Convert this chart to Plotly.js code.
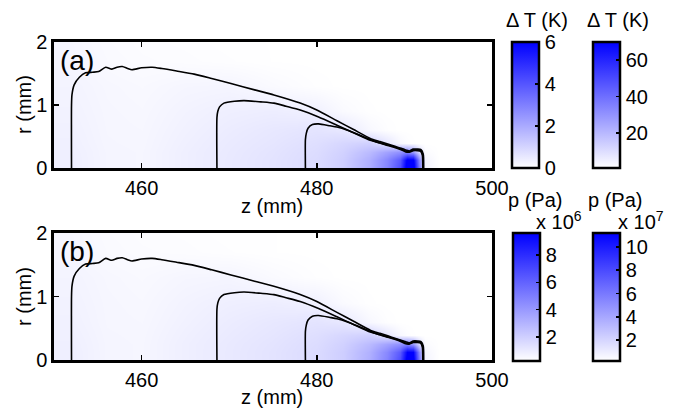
<!DOCTYPE html>
<html>
<head>
<meta charset="utf-8">
<script src="https://cdn.plot.ly/plotly-3.0.1.min.js"></script>
<style>html,body{margin:0;padding:0;background:#fff;}#chart{width:678px;height:409px;}</style>
</head>
<body>
<div id="chart"></div>
<script>
// ---- data ----
const zGrid = [450, 452, 456, 460, 465, 470, 475, 480, 483, 486, 488, 489.5, 490.3, 491, 491.7, 492.3, 494, 500];
const rGrid = [0, 0.12, 0.25, 0.4, 0.6, 0.9, 1.3, 1.7, 2.0];

// Delta T (K), rows follow rGrid, columns follow zGrid
const dTField = [
  [0.38,0.38,0.24,0.22,0.38,0.52,0.66,0.85,1.15,1.90,2.90,4.20,6.60,6.60,3.20,0.30,0,0],
  [0.38,0.38,0.24,0.22,0.38,0.52,0.66,0.85,1.15,1.85,2.80,3.90,6.20,6.20,2.80,0.25,0,0],
  [0.37,0.37,0.24,0.22,0.38,0.51,0.64,0.82,1.08,1.60,2.20,2.60,2.90,2.40,0.95,0.10,0,0],
  [0.35,0.35,0.23,0.21,0.36,0.49,0.60,0.76,0.95,1.10,0.60,0.18,0.06,0.02,0,0,0,0],
  [0.33,0.33,0.22,0.20,0.33,0.45,0.55,0.64,0.55,0.18,0.04,0,0,0,0,0,0,0],
  [0.30,0.30,0.21,0.18,0.29,0.38,0.42,0.34,0.12,0.02,0,0,0,0,0,0,0,0],
  [0.27,0.27,0.19,0.15,0.22,0.24,0.12,0.03,0,0,0,0,0,0,0,0,0,0],
  [0.24,0.22,0.13,0.09,0.07,0.04,0.01,0,0,0,0,0,0,0,0,0,0,0],
  [0.22,0.20,0.11,0.07,0.05,0.02,0.01,0,0,0,0,0,0,0,0,0,0,0]
];

// p (x 10^6 Pa), rows follow rGrid, columns follow zGrid
const pField = [
  [0.85,0.85,0.62,0.59,0.84,1.06,1.28,1.58,2.05,3.20,4.80,6.80,10.2,10.2,5.20,0.70,0.25,0.25],
  [0.85,0.85,0.62,0.59,0.84,1.06,1.28,1.58,2.05,3.10,4.60,6.30,9.60,9.60,4.60,0.60,0.25,0.25],
  [0.83,0.83,0.62,0.59,0.84,1.05,1.25,1.53,1.94,2.75,3.65,4.30,4.80,4.00,1.75,0.40,0.25,0.25],
  [0.80,0.80,0.61,0.58,0.81,1.01,1.19,1.44,1.73,1.97,1.18,0.53,0.34,0.28,0.25,0.25,0.25,0.25],
  [0.76,0.76,0.59,0.56,0.76,0.95,1.11,1.25,1.11,0.53,0.31,0.25,0.25,0.25,0.25,0.25,0.25,0.25],
  [0.72,0.72,0.58,0.53,0.70,0.84,0.90,0.78,0.44,0.28,0.25,0.25,0.25,0.25,0.25,0.25,0.25,0.25],
  [0.67,0.67,0.55,0.48,0.59,0.62,0.44,0.30,0.25,0.25,0.25,0.25,0.25,0.25,0.25,0.25,0.25,0.25],
  [0.62,0.59,0.45,0.39,0.36,0.31,0.27,0.25,0.25,0.25,0.25,0.25,0.25,0.25,0.25,0.25,0.25,0.25],
  [0.59,0.56,0.42,0.36,0.33,0.28,0.27,0.25,0.25,0.25,0.25,0.25,0.25,0.25,0.25,0.25,0.25,0.25]
];

// contour lines (z in mm, r in mm)
const outerZ = [452.0,452.0,452.05,452.3,452.9,453.6,454.4,455.1,455.9,456.6,457.2,457.8,458.4,458.9,460.0,461.2,462.3,464.0,466.0,468.0,470.2,472.9,475.1,478.1,480.0,482.3,484.2,486.1,487.2,488.1,489.0,489.9,490.3,490.6,491.0,491.5,491.9,492.15,492.2];
const outerR = [0,1.0,1.16,1.32,1.44,1.51,1.52,1.53,1.60,1.57,1.60,1.61,1.58,1.56,1.59,1.60,1.58,1.54,1.49,1.42,1.34,1.24,1.16,1.03,0.92,0.75,0.61,0.47,0.42,0.38,0.34,0.30,0.28,0.27,0.30,0.30,0.29,0.22,0];
const midZ = [468.6,468.6,468.7,468.9,469.4,470.6,471.7,473.6,475.1,476.5,478.1,480.2,482.3,484.2,486.1,487.2,488.1,489.0,489.8,490.2,490.6,491.0,491.5,491.9,492.1,492.15];
const midR = [0,0.8,0.9,0.97,1.03,1.06,1.07,1.05,1.03,0.98,0.92,0.81,0.68,0.56,0.44,0.40,0.365,0.33,0.29,0.265,0.26,0.285,0.285,0.275,0.21,0];
const innerZ = [478.7,478.7,478.8,479.0,479.5,480.2,481.5,482.3,483.5,484.6,485.8,486.9,487.8,488.8,489.7,490.15,490.55,491.0,491.5,491.85,492.05,492.1];
const innerR = [0,0.45,0.55,0.63,0.69,0.70,0.67,0.65,0.60,0.54,0.47,0.41,0.37,0.33,0.285,0.255,0.25,0.275,0.275,0.265,0.2,0];

// colour-bar ranges and ticks
const dT1Range = [0, 6],    dT1Ticks = [0, 2, 4, 6];
const dT2Range = [0.8, 70], dT2Ticks = [20, 40, 60];
const p1Range = [0.25, 9.6], p1Ticks = [2, 4, 6, 8];
const p2Range = [0.2, 11.2], p2Ticks = [2, 4, 6, 8, 10];
const zTicks = [460, 480, 500];
const rTicks = [0, 1, 2];

// ---- layout helpers ----
const W = 678, H = 409;
const px = v => v / W, py = v => 1 - v / H;
const FONT = 'Liberation Sans, Arial, sans-serif';
const scale = [[0, '#ffffff'], [1, '#0000ff']];

function cbar(left, top, height, ticks) {
  return {
    x: px(left), xanchor: 'left', xref: 'paper',
    y: py(top), yanchor: 'top', yref: 'paper',
    len: height / H, lenmode: 'fraction',
    thickness: 27, thicknessmode: 'pixels',
    xpad: 0, ypad: 0, borderwidth: 0,
    outlinewidth: 2.5, outlinecolor: '#000',
    ticks: 'inside', ticklen: 5, tickwidth: 1.5, tickcolor: '#000',
    tickvals: ticks, tickfont: {family: FONT, size: 20, color: '#000'}
  };
}

function lines(xa, ya) {
  return [[outerZ, outerR], [midZ, midR], [innerZ, innerR]].map(([zz, rr]) => ({
    type: 'scatter', mode: 'lines', x: zz, y: rr, xaxis: xa, yaxis: ya,
    line: {color: '#000', width: 1.6, shape: 'spline', smoothing: 0.6},
    hoverinfo: 'skip', showlegend: false
  }));
}

const data = [
  {type: 'heatmap', x: zGrid, y: rGrid, z: dTField, xaxis: 'x', yaxis: 'y',
   colorscale: scale, zmin: dT1Range[0], zmax: dT1Range[1], zsmooth: 'best',
   colorbar: cbar(512, 42, 126, dT1Ticks), hoverinfo: 'skip'},
  {type: 'heatmap', x: [600, 601], y: [0, 1], z: [[dT2Range[0], dT2Range[1]], [dT2Range[0], dT2Range[1]]],
   xaxis: 'x', yaxis: 'y', colorscale: scale, zmin: dT2Range[0], zmax: dT2Range[1],
   colorbar: cbar(593, 42, 126, dT2Ticks), hoverinfo: 'skip'},
  ...lines('x', 'y'),
  {type: 'heatmap', x: zGrid, y: rGrid, z: pField, xaxis: 'x2', yaxis: 'y2',
   colorscale: scale, zmin: p1Range[0], zmax: p1Range[1], zsmooth: 'best',
   colorbar: cbar(513, 233, 128, p1Ticks), hoverinfo: 'skip'},
  {type: 'heatmap', x: [600, 601], y: [0, 1], z: [[p2Range[0], p2Range[1]], [p2Range[0], p2Range[1]]],
   xaxis: 'x2', yaxis: 'y2', colorscale: scale, zmin: p2Range[0], zmax: p2Range[1],
   colorbar: cbar(593, 233, 128, p2Ticks), hoverinfo: 'skip'},
  ...lines('x2', 'y2')
];

function xax(anchor) {
  return {domain: [px(54), px(492)], anchor: anchor, range: [450, 500], tickvals: zTicks,
    ticks: 'inside', ticklen: 5, tickwidth: 1.5, tickcolor: '#000',
    showline: true, linewidth: 2.7, linecolor: '#000', mirror: 'ticks',
    showgrid: false, zeroline: false, tickfont: {family: FONT, size: 20, color: '#000'}};
}
function yax(anchor, top, bottom) {
  return {domain: [py(bottom), py(top)], anchor: anchor, range: [0, 2], tickvals: rTicks,
    ticks: 'inside', ticklen: 5, tickwidth: 1.5, tickcolor: '#000',
    showline: true, linewidth: 2.7, linecolor: '#000', mirror: 'ticks',
    showgrid: false, zeroline: false, tickfont: {family: FONT, size: 20, color: '#000'}};
}

function ann(text, x, y, opts) {
  return Object.assign({text: text, x: px(x), y: py(y), xref: 'paper', yref: 'paper',
    showarrow: false, xanchor: 'center', yanchor: 'middle',
    font: {family: FONT, size: 20, color: '#000'}}, opts || {});
}

const layout = {
  width: W, height: H,
  margin: {l: 0, r: 0, t: 0, b: 0, autoexpand: false},
  paper_bgcolor: '#fff', plot_bgcolor: '#fff',
  showlegend: false,
  xaxis: xax('y'), yaxis: yax('x', 42, 168),
  xaxis2: xax('y2'), yaxis2: yax('x2', 233, 360),
  annotations: [
    ann('(a)', 58, 61, {xanchor: 'left', font: {family: FONT, size: 28, color: '#000'}}),
    ann('(b)', 58, 252, {xanchor: 'left', font: {family: FONT, size: 28, color: '#000'}}),
    ann('r (mm)', 24, 105, {textangle: -90}),
    ann('r (mm)', 24, 297, {textangle: -90}),
    ann('z (mm)', 272, 206),
    ann('z (mm)', 272, 397),
    ann('Δ T (K)', 537, 20),
    ann('Δ T (K)', 618, 20),
    ann('p (Pa)', 535, 200),
    ann('p (Pa)', 615, 200),
    ann('x 10<sup>6</sup>', 584, 220, {xanchor: 'right'}),
    ann('x 10<sup>7</sup>', 666, 220, {xanchor: 'right'})
  ]
};

Plotly.newPlot('chart', data, layout, {staticPlot: true, displayModeBar: false});
</script>
</body>
</html>
